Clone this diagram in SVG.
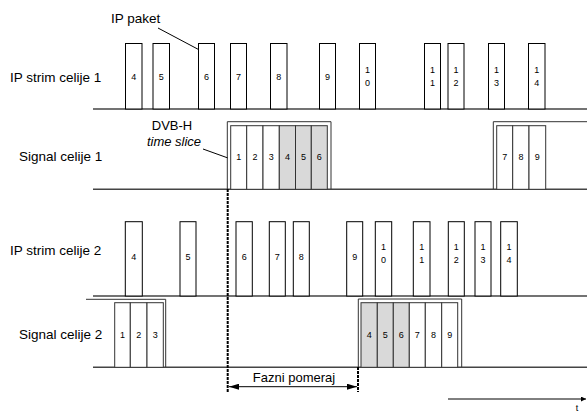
<svg xmlns="http://www.w3.org/2000/svg" width="587" height="412" viewBox="0 0 587 412">
<style>
.lbl{font-family:"Liberation Sans",Arial,sans-serif;font-size:13.5px;fill:#000}
.num{font-family:"Liberation Sans",Arial,sans-serif;font-size:9px;fill:#000;text-anchor:middle}
.pk{fill:#fff;stroke:#000;stroke-width:1}
.cell{fill:#fff;stroke:#333;stroke-width:1}
.g{fill:#d9d9d9}
.base{stroke:#444;stroke-width:1.5;fill:none}
.frame{fill:none;stroke:#333;stroke-width:1}
.thin{stroke:#000;stroke-width:1;fill:none}
.dash{stroke:#000;stroke-width:2;stroke-dasharray:3 1;fill:none}
</style>
<defs>
<marker id="ah" viewBox="0 0 10 6" refX="10" refY="3" markerWidth="10" markerHeight="6" markerUnits="userSpaceOnUse" orient="auto-start-reverse"><path d="M0,0L10,3L0,6z" fill="#000"/></marker>
<marker id="ahs" viewBox="0 0 5 5" refX="5" refY="2.5" markerWidth="5" markerHeight="5" markerUnits="userSpaceOnUse" orient="auto"><path d="M0,0L5,2.5L0,5z" fill="#000"/></marker>
</defs>

<g id="labels">
<text class="lbl" x="10" y="82">IP strim celije 1</text>
<text class="lbl" x="19" y="161">Signal celije 1</text>
<text class="lbl" x="10" y="255">IP strim celije 2</text>
<text class="lbl" x="19" y="339">Signal celije 2</text>
<text class="lbl" x="111" y="23">IP paket</text>
<text class="lbl" x="172" y="130" text-anchor="middle" style="font-size:13px">DVB-H</text>
<text class="lbl" x="174" y="146" text-anchor="middle" style="font-size:13px;font-style:italic">time slice</text>
<text class="lbl" x="294" y="382" text-anchor="middle" style="font-size:13px">Fazni pomeraj</text>
<text class="num" x="577" y="411">t</text>
</g>

<g id="connectors">
<line class="base" x1="93" y1="109" x2="587" y2="109"/>
<line class="base" x1="93" y1="189.3" x2="587" y2="189.3"/>
<line class="base" x1="93" y1="296" x2="587" y2="296"/>
<line class="base" x1="93" y1="367.3" x2="587" y2="367.3"/>
<line class="thin" x1="158" y1="28" x2="207" y2="54"/>
<line class="thin" x1="203" y1="149" x2="228" y2="158"/>
<line class="dash" x1="227.7" y1="189" x2="227.7" y2="392"/>
<line class="dash" x1="358" y1="367" x2="358" y2="392"/>
<line class="thin" x1="229" y1="386.7" x2="357" y2="386.7" marker-start="url(#ah)" marker-end="url(#ah)"/>
<line class="thin" x1="448" y1="399" x2="586" y2="399" marker-end="url(#ahs)"/>
</g>

<g id="ip-stream-1">
<rect class="pk" x="125.5" y="43.5" width="16.5" height="65.5"/><text class="num" x="133.8" y="80">4</text>
<rect class="pk" x="153" y="43.5" width="16.5" height="65.5"/><text class="num" x="161.3" y="80">5</text>
<rect class="pk" x="198.5" y="43.5" width="16" height="65.5"/><text class="num" x="206.5" y="80">6</text>
<rect class="pk" x="230.5" y="43.5" width="16" height="65.5"/><text class="num" x="238.5" y="80">7</text>
<rect class="pk" x="270.5" y="43.5" width="16.5" height="65.5"/><text class="num" x="278.8" y="80">8</text>
<rect class="pk" x="319.5" y="43.5" width="16" height="65.5"/><text class="num" x="327.5" y="80">9</text>
<rect class="pk" x="359.5" y="43.5" width="16" height="65.5"/><text class="num" x="367.5" y="73">1</text><text class="num" x="367.5" y="86">0</text>
<rect class="pk" x="424.5" y="43.5" width="16" height="65.5"/><text class="num" x="432.5" y="73">1</text><text class="num" x="432.5" y="86">1</text>
<rect class="pk" x="448" y="43.5" width="16" height="65.5"/><text class="num" x="456" y="73">1</text><text class="num" x="456" y="86">2</text>
<rect class="pk" x="488.5" y="43.5" width="16" height="65.5"/><text class="num" x="496.5" y="73">1</text><text class="num" x="496.5" y="86">3</text>
<rect class="pk" x="528.5" y="43.5" width="16.5" height="65.5"/><text class="num" x="536.8" y="73">1</text><text class="num" x="536.8" y="86">4</text>
</g>

<g id="signal-1-slice-a">
<polyline class="frame" points="227.3,189 227.3,121.7 331,121.7 331,189"/>
<rect class="cell" x="230.7" y="125.7" width="16" height="63.6"/><text class="num" x="238.7" y="160">1</text>
<rect class="cell" x="246.7" y="125.7" width="16.3" height="63.6"/><text class="num" x="254.9" y="160">2</text>
<rect class="cell" x="263" y="125.7" width="16.3" height="63.6"/><text class="num" x="271.2" y="160">3</text>
<rect class="cell g" x="279.3" y="125.7" width="16.2" height="63.6"/><text class="num" x="287.4" y="160">4</text>
<rect class="cell g" x="295.5" y="125.7" width="15.8" height="63.6"/><text class="num" x="303.4" y="160">5</text>
<rect class="cell g" x="311.3" y="125.7" width="16" height="63.6"/><text class="num" x="319.3" y="160">6</text>
</g>

<g id="signal-1-slice-b">
<polyline class="frame" points="493.3,189 493.3,121.7 587,121.7"/>
<rect class="cell" x="496.7" y="125.7" width="16" height="63.6"/><text class="num" x="504.7" y="160">7</text>
<rect class="cell" x="512.7" y="125.7" width="16.3" height="63.6"/><text class="num" x="520.9" y="160">8</text>
<rect class="cell" x="529" y="125.7" width="16.7" height="63.6"/><text class="num" x="537.3" y="160">9</text>
</g>

<g id="ip-stream-2">
<rect class="pk" x="125.3" y="221.7" width="17" height="74.3"/><text class="num" x="133.8" y="260">4</text>
<rect class="pk" x="180" y="221.7" width="16" height="74.3"/><text class="num" x="188" y="260">5</text>
<rect class="pk" x="236" y="221.7" width="16.3" height="74.3"/><text class="num" x="244.2" y="260">6</text>
<rect class="pk" x="269.3" y="221.7" width="16" height="74.3"/><text class="num" x="277.3" y="260">7</text>
<rect class="pk" x="293.3" y="221.7" width="16" height="74.3"/><text class="num" x="301.3" y="260">8</text>
<rect class="pk" x="346.7" y="221.7" width="16" height="74.3"/><text class="num" x="354.7" y="260">9</text>
<rect class="pk" x="375.3" y="221.7" width="16.4" height="74.3"/><text class="num" x="383.5" y="250">1</text><text class="num" x="383.5" y="262.5">0</text>
<rect class="pk" x="413.3" y="221.7" width="16.7" height="74.3"/><text class="num" x="421.7" y="250">1</text><text class="num" x="421.7" y="262.5">1</text>
<rect class="pk" x="448.3" y="221.7" width="16" height="74.3"/><text class="num" x="456.3" y="250">1</text><text class="num" x="456.3" y="262.5">2</text>
<rect class="pk" x="475" y="221.7" width="16" height="74.3"/><text class="num" x="483" y="250">1</text><text class="num" x="483" y="262.5">3</text>
<rect class="pk" x="500.7" y="221.7" width="16.6" height="74.3"/><text class="num" x="509" y="250">1</text><text class="num" x="509" y="262.5">4</text>
</g>

<g id="signal-2-slice-a">
<polyline class="frame" points="86,299.3 165.7,299.3 165.7,367"/>
<rect class="cell" x="114.7" y="302.7" width="15.6" height="64.6"/><text class="num" x="122.5" y="337.5">1</text>
<rect class="cell" x="130.3" y="302.7" width="16.7" height="64.6"/><text class="num" x="138.7" y="337.5">2</text>
<rect class="cell" x="147" y="302.7" width="16.3" height="64.6"/><text class="num" x="155.2" y="337.5">3</text>
</g>

<g id="signal-2-slice-b">
<polyline class="frame" points="358.3,367 358.3,299 461.7,299 461.7,367"/>
<rect class="cell g" x="361" y="302.7" width="16.3" height="64.6"/><text class="num" x="369.2" y="337.5">4</text>
<rect class="cell g" x="377.3" y="302.7" width="16" height="64.6"/><text class="num" x="385.3" y="337.5">5</text>
<rect class="cell g" x="393.3" y="302.7" width="16" height="64.6"/><text class="num" x="401.3" y="337.5">6</text>
<rect class="cell" x="409.3" y="302.7" width="16" height="64.6"/><text class="num" x="417.3" y="337.5">7</text>
<rect class="cell" x="425.3" y="302.7" width="16.4" height="64.6"/><text class="num" x="433.5" y="337.5">8</text>
<rect class="cell" x="441.7" y="302.7" width="16" height="64.6"/><text class="num" x="449.7" y="337.5">9</text>
</g>
</svg>
